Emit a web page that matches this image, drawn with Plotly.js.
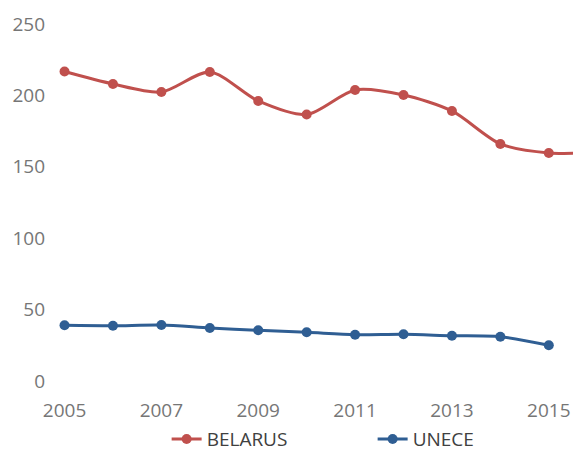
<!DOCTYPE html>
<html><head><meta charset="utf-8">
<script src="https://cdn.plot.ly/plotly-3.0.1.min.js"></script>
<style>html,body{margin:0;padding:0;background:#fff}#chart{width:573px;height:453px}</style>
</head><body><div id="chart"></div>
<script>
var years = [2005,2006,2007,2008,2009,2010,2011,2012,2013,2014,2015,2016];
var belarus = [216.7,208.0,202.4,216.4,196.1,186.6,203.8,200.3,189.1,166.0,159.7,160.0];
var unece = [39.0,38.7,39.2,37.1,35.5,34.1,32.4,32.7,31.7,31.0,25.0];
var yTicks = [0,50,100,150,200,250];
var xTicks = [2005,2007,2009,2011,2013,2015];

var traces = [
  {x: years, y: belarus, name: 'BELARUS', mode: 'lines+markers', type: 'scatter',
   line: {color: '#C0504D', width: 3, shape: 'spline', smoothing: 0.8},
   marker: {color: '#C0504D', size: 10}},
  {x: years.slice(0, unece.length), y: unece, name: 'UNECE', mode: 'lines+markers', type: 'scatter',
   line: {color: '#2F5E93', width: 3, shape: 'spline', smoothing: 0.8},
   marker: {color: '#2F5E93', size: 10}}
];
var layout = {
  width: 573, height: 453,
  margin: {l: 50, r: 0, t: 24, b: 72, autoexpand: false},
  paper_bgcolor: '#fff', plot_bgcolor: '#fff',
  font: {family: 'Open Sans, sans-serif', color: '#767676', size: 19},
  xaxis: {range: [2004.7, 2015.5], tickvals: xTicks, ticktext: xTicks.map(String),
          showgrid: false, zeroline: false, showline: false, ticks: '', ticklabelstandoff: 16,
          tickfont: {size: 19, color: '#767676'}},
  yaxis: {range: [0, 250], tickvals: yTicks, ticktext: yTicks.map(String),
          showgrid: false, zeroline: false, showline: false, ticks: '', ticklabelstandoff: 4,
          tickfont: {size: 19, color: '#767676'}},
  showlegend: true,
  legend: {orientation: 'h', x: 0.223, xanchor: 'left', y: -0.163, yanchor: 'middle',
           bgcolor: 'rgba(0,0,0,0)',
           font: {size: 19, color: '#404040'}, entrywidth: 161, entrywidthmode: 'pixels'},
  hovermode: false
};
Plotly.newPlot('chart', traces, layout, {staticPlot: true, displayModeBar: false});
</script></body></html>
